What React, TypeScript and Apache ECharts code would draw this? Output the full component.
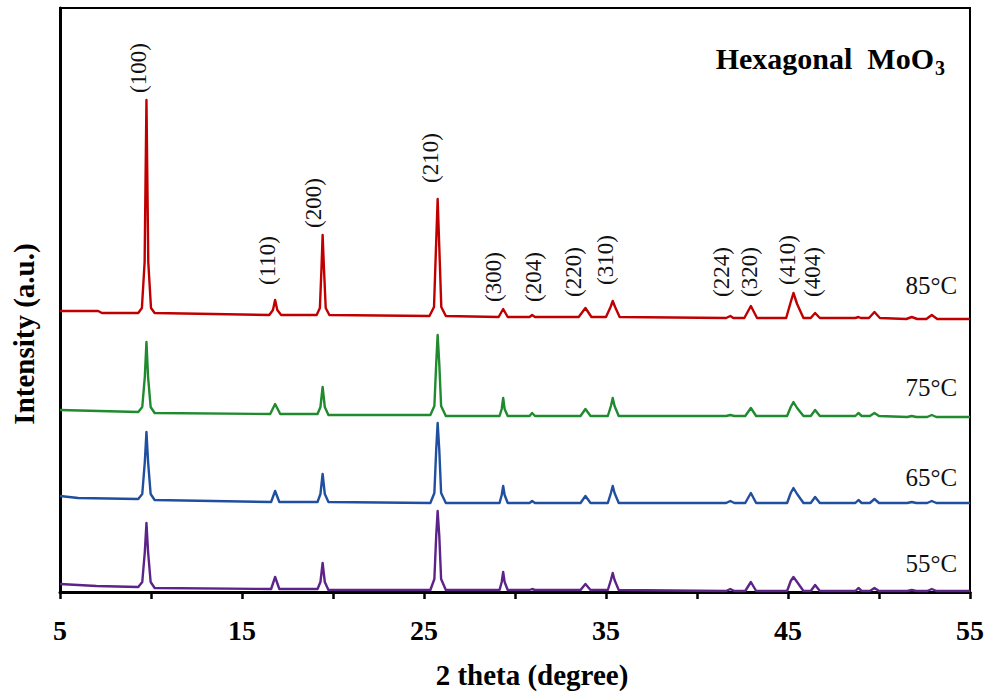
import React, { useEffect, useRef } from "react";
import * as echarts from "echarts";

// 2θ (degree) vs intensity (a.u.), traces stacked with offsets
const red85: number[][] = [
  [5, 281], [7.1, 281], [7.3, 279], [9.3, 279], [9.5, 284], [9.65, 330], [9.75, 492], [9.85, 330], [10.0, 284], [10.2, 279],
  [16.5, 277], [16.7, 282], [16.82, 292], [16.94, 282], [17.15, 277],
  [19.1, 277], [19.28, 284], [19.37, 325], [19.43, 357], [19.5, 325], [19.6, 284], [19.8, 277],
  [25.3, 276], [25.55, 285], [25.66, 345], [25.75, 393], [25.84, 345], [25.95, 285], [26.2, 276],
  [29.1, 275], [29.35, 283], [29.6, 275], [30.8, 275], [30.94, 277], [31.1, 275],
  [33.5, 275], [33.87, 284], [34.2, 275], [35.0, 275], [35.25, 285], [35.37, 291], [35.5, 285], [35.75, 275],
  [41.6, 274], [41.83, 276], [42.0, 274], [42.6, 274], [42.96, 286], [43.3, 274],
  [44.9, 274], [45.15, 290], [45.3, 299], [45.5, 288], [45.85, 274], [46.25, 274], [46.49, 279], [46.75, 274],
  [48.7, 274], [48.87, 275], [49.0, 274], [49.45, 274], [49.75, 280], [50.05, 274],
  [51.5, 273], [51.8, 275], [52.1, 273], [52.6, 273], [52.9, 277], [53.2, 273], [55, 273],
];

const green75: number[][] = [
  [5, 182], [9.3, 180], [9.52, 185], [9.66, 215], [9.75, 250], [9.84, 215], [9.98, 185], [10.2, 179],
  [16.55, 178], [16.82, 188], [17.1, 178],
  [19.15, 178], [19.31, 185], [19.43, 205], [19.55, 185], [19.75, 177],
  [25.35, 177], [25.57, 186], [25.67, 228], [25.75, 257], [25.84, 228], [25.94, 186], [26.2, 176],
  [29.15, 176], [29.27, 183], [29.35, 194], [29.43, 183], [29.6, 176], [30.8, 176], [30.94, 179], [31.1, 176],
  [33.6, 176], [33.87, 183], [34.15, 176], [35.1, 176], [35.27, 186], [35.37, 194], [35.47, 186], [35.7, 176],
  [41.6, 176], [41.83, 177], [42.05, 176], [42.65, 176], [42.96, 184], [43.25, 176],
  [44.95, 176], [45.15, 185], [45.3, 190], [45.5, 184], [45.85, 176], [46.25, 176], [46.49, 182], [46.75, 176],
  [48.7, 176], [48.87, 179], [49.05, 176], [49.5, 176], [49.75, 179], [50.0, 176],
  [51.55, 175], [51.8, 176], [52.05, 175], [52.65, 175], [52.9, 177], [53.15, 175], [55, 175],
];

const blue65: number[][] = [
  [5, 96], [6, 94], [9.3, 93], [9.52, 98], [9.66, 130], [9.75, 160], [9.84, 130], [9.98, 98], [10.2, 92],
  [16.6, 90], [16.82, 101], [17.05, 90],
  [19.15, 90], [19.31, 98], [19.43, 118], [19.55, 98], [19.75, 90],
  [25.35, 89], [25.57, 99], [25.67, 142], [25.75, 169], [25.84, 142], [25.94, 99], [26.2, 89],
  [29.15, 89], [29.27, 97], [29.35, 106], [29.43, 97], [29.6, 89], [30.8, 89], [30.94, 91], [31.1, 89],
  [33.6, 89], [33.87, 96], [34.15, 89], [35.1, 89], [35.27, 99], [35.37, 106], [35.47, 99], [35.7, 89],
  [41.6, 89], [41.83, 91], [42.05, 89], [42.65, 89], [42.96, 99], [43.25, 89],
  [44.95, 89], [45.15, 99], [45.3, 104], [45.5, 98], [45.85, 89], [46.25, 89], [46.49, 95], [46.75, 89],
  [48.7, 89], [48.87, 92], [49.05, 89], [49.5, 89], [49.75, 93], [50.0, 89],
  [51.55, 89], [51.8, 90], [52.05, 89], [52.65, 89], [52.9, 91], [53.15, 89], [55, 89],
];

const purple55: number[][] = [
  [5, 8], [7, 6], [9.3, 5], [9.52, 10], [9.66, 40], [9.75, 69], [9.84, 40], [9.98, 10], [10.2, 4],
  [16.6, 3], [16.82, 15], [17.05, 3],
  [19.15, 3], [19.31, 10], [19.43, 29], [19.55, 10], [19.75, 2],
  [25.35, 2], [25.57, 13], [25.67, 56], [25.75, 81], [25.84, 56], [25.94, 13], [26.2, 2],
  [29.15, 2], [29.27, 10], [29.35, 20], [29.43, 10], [29.6, 2], [30.8, 2], [30.94, 3], [31.1, 2],
  [33.6, 2], [33.87, 8], [34.15, 2], [35.1, 2], [35.27, 12], [35.37, 19], [35.47, 12], [35.7, 2],
  [41.6, 1], [41.83, 3], [42.05, 1], [42.65, 1], [42.96, 10], [43.25, 1],
  [44.95, 1], [45.15, 11], [45.3, 15], [45.5, 10], [45.85, 1], [46.25, 1], [46.49, 7], [46.75, 1],
  [48.7, 1], [48.87, 4], [49.05, 1], [49.5, 1], [49.75, 4], [50.0, 1],
  [51.55, 1], [51.8, 2], [52.05, 1], [52.65, 1], [52.9, 3], [53.15, 1], [55, 1],
];

// Miller index labels (text, 2θ of label centre, intensity at label foot)
const hklLabels = ["(100)", "(110)", "(200)", "(210)", "(300)", "(204)", "(220)", "(310)", "(224)", "(320)", "(410)", "(404)"];
const hklTheta = [9.34, 16.42, 18.94, 25.36, 28.8, 31.02, 33.19, 34.97, 41.37, 42.87, 44.96, 46.33];
const hklY = [499, 307, 364, 409, 290, 290, 295, 307, 295, 295, 307, 295];

// Temperature labels (right-aligned)
const tempLabels = ["85\u00B0C", "75\u00B0C", "65\u00B0C", "55\u00B0C"];
const tempTheta = [54.29, 54.29, 54.29, 54.29];
const tempY = [307, 205, 115, 29];

const xTicks = [5, 15, 25, 35, 45, 55];

const titleMain = "Hexagonal  MoO";
const titleSub = "3";

const FONT = "'Liberation Serif', 'Times New Roman', serif";

export default function App() {
  const ref = useRef<HTMLDivElement>(null);

  useEffect(() => {
    if (!ref.current) return;
    const chart = echarts.init(ref.current, undefined, { renderer: "svg" });

    const lineSeries = (name: string, data: number[][], color: string) => ({
      name,
      type: "line",
      data,
      showSymbol: false,
      symbol: "none",
      smooth: false,
      lineStyle: { color, width: 2.4, join: "round" },
      z: 3,
    });

    const option: any = {
      animation: false,
      backgroundColor: "#fff",
      grid: {
        left: 60,
        right: 18,
        top: 8,
        bottom: 107,
        show: true,
        borderColor: "#000",
        borderWidth: 2,
      },
      graphic: [
        {
          type: "text",
          x: 934,
          y: 73,
          z: 10,
          style: {
            text: titleMain,
            align: "right",
            verticalAlign: "bottom",
            font: `bold 30px ${FONT}`,
            fill: "#000",
          },
        },
        {
          type: "text",
          x: 935,
          y: 78,
          z: 10,
          style: {
            text: titleSub,
            align: "left",
            verticalAlign: "bottom",
            font: `bold 20px ${FONT}`,
            fill: "#000",
          },
        },
      ],
      xAxis: {
        type: "value",
        min: 5,
        max: 55,
        interval: 5,
        name: "2 theta (degree)",
        nameLocation: "middle",
        nameGap: 68,
        nameTextStyle: {
          fontFamily: FONT,
          fontWeight: "bold",
          fontSize: 29,
          color: "#000",
          padding: [0, 0, 0, 34],
        },
        axisLine: { show: true, onZero: false, lineStyle: { color: "#000", width: 3 } },
        axisTick: { show: true, inside: false, length: 7, lineStyle: { color: "#000", width: 2.5 } },
        splitLine: { show: false },
        axisLabel: {
          margin: 24,
          fontFamily: FONT,
          fontWeight: "bold",
          fontSize: 28,
          color: "#000",
          formatter: (v: number) => (xTicks.includes(v) ? String(v) : ""),
        },
      },
      yAxis: {
        type: "value",
        min: 0,
        max: 584,
        name: "Intensity (a.u.)",
        nameLocation: "middle",
        nameGap: 22,
        nameTextStyle: {
          fontFamily: FONT,
          fontWeight: "bold",
          fontSize: 29,
          color: "#000",
          padding: [0, 68, 0, 0],
        },
        axisLine: { show: true, lineStyle: { color: "#000", width: 3 } },
        axisTick: { show: false },
        axisLabel: { show: false },
        splitLine: { show: false },
      },
      series: [
        lineSeries("85°C", red85, "#c00000"),
        lineSeries("75°C", green75, "#1f8a2e"),
        lineSeries("65°C", blue65, "#1f4f9e"),
        lineSeries("55°C", purple55, "#5c2389"),
        {
          type: "custom",
          coordinateSystem: "cartesian2d",
          silent: true,
          clip: false,
          z: 5,
          encode: { x: 0, y: 1 },
          data: hklTheta.map((t, i) => [t, hklY[i]]),
          renderItem: (params: any, api: any) => {
            const p = api.coord([api.value(0), api.value(1)]);
            return {
              type: "text",
              x: p[0],
              y: p[1],
              rotation: Math.PI / 2,
              style: {
                text: hklLabels[params.dataIndex],
                align: "left",
                verticalAlign: "middle",
                font: `23px ${FONT}`,
                fill: "#111",
              },
            };
          },
        },
        {
          type: "custom",
          coordinateSystem: "cartesian2d",
          silent: true,
          clip: false,
          z: 5,
          encode: { x: 0, y: 1 },
          data: tempTheta.map((t, i) => [t, tempY[i]]),
          renderItem: (params: any, api: any) => {
            const p = api.coord([api.value(0), api.value(1)]);
            return {
              type: "text",
              x: p[0],
              y: p[1],
              style: {
                text: tempLabels[params.dataIndex],
                align: "right",
                verticalAlign: "middle",
                font: `25px ${FONT}`,
                fill: "#111",
              },
            };
          },
        },
      ],
    };

    chart.setOption(option);
    return () => chart.dispose();
  }, []);

  return <div ref={ref} style={{ width: 988, height: 699, position: "absolute", left: 0, top: 0 }} />;
}
